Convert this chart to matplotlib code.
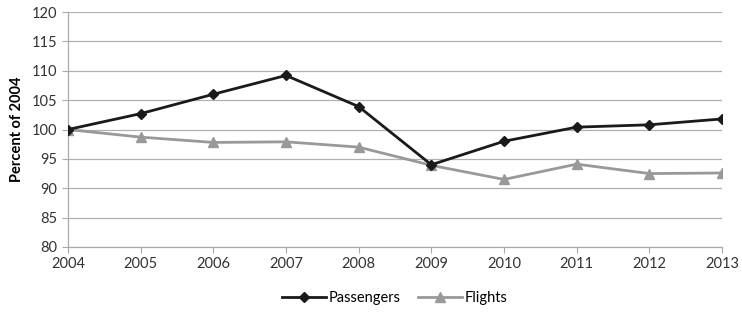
import matplotlib
matplotlib.use("Agg")
import matplotlib.pyplot as plt

years = [2004, 2005, 2006, 2007, 2008, 2009, 2010, 2011, 2012, 2013]
passengers = [100, 102.7, 106.0, 109.2, 103.9, 94.0, 98.0, 100.4, 100.8, 101.8]
flights = [100, 98.7, 97.8, 97.9, 97.0, 93.9, 91.5, 94.1, 92.5, 92.6]
yticks = [80, 85, 90, 95, 100, 105, 110, 115, 120]

plt.rcParams['font.family'] = ['Lato', 'DejaVu Sans']

fig = plt.figure(figsize=(7.42, 3.14), dpi=100)
ax = fig.add_axes([68/742, 1 - 247/314, (722-68)/742, (247-12)/314])

ax.plot(years, passengers, color='#1a1a1a', lw=2, marker='D', ms=5.5, label='Passengers', zorder=3)
ax.plot(years, flights, color='#999999', lw=2, marker='^', ms=7, label='Flights', zorder=2)

ax.set_xlim(2004, 2013)
ax.set_ylim(80, 120)
ax.set_xticks(years)
ax.set_yticks(yticks)
ax.tick_params(axis='both', labelsize=10.5, colors='#333333', length=4, width=0.8)
ax.tick_params(axis='both', color='#aaaaaa')
ax.tick_params(axis='x', pad=3)
ax.grid(axis='y', color='#b0b0b0', lw=0.9)
ax.set_axisbelow(True)
for s in ['top', 'right']:
    ax.spines[s].set_visible(False)
for s in ['left', 'bottom']:
    ax.spines[s].set_color('#aaaaaa')
    ax.spines[s].set_linewidth(0.9)

ax.set_ylabel('Percent of 2004', fontsize=10.5, fontweight='bold', labelpad=6)

fig.legend(loc='center', bbox_to_anchor=(395/742, 1 - 298/314), ncol=2, frameon=False,
           fontsize=10.5, handlelength=3, columnspacing=1.2, handletextpad=0.2)

fig.savefig('out.png', dpi=100)
